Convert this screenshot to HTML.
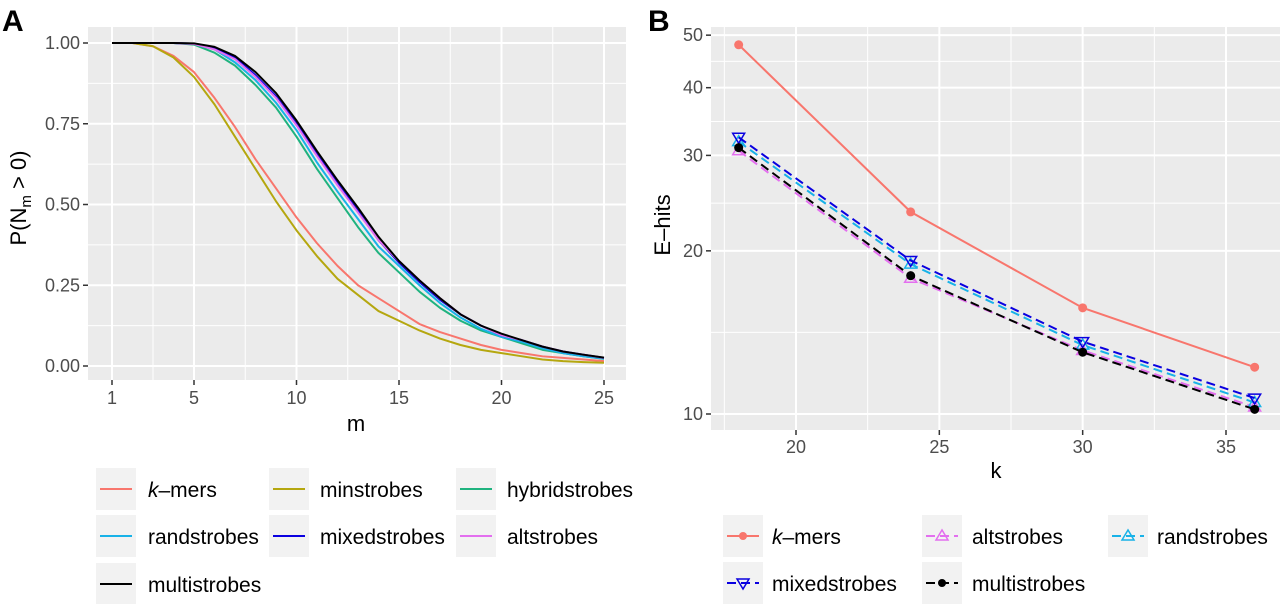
<!DOCTYPE html>
<html><head><meta charset="utf-8"><style>
body{margin:0;background:#fff;}
svg{display:block;font-family:"Liberation Sans",Arial,sans-serif;}
</style></head><body>
<svg id="fig" width="1280" height="604" viewBox="0 0 1280 604">
<g id="pa"></g>
<g id="pb"></g>
</svg>
<script>
// Panel A data
const mValues=[1,2,3,4,5,6,7,8,9,10,11,12,13,14,15,16,17,18,19,20,21,22,23,24,25];
const seriesNamesA=["k-mers","minstrobes","hybridstrobes","randstrobes","mixedstrobes","altstrobes","multistrobes"];
const kmersA=[1,1,.99,.96,.91,.83,.74,.64,.55,.46,.38,.31,.25,.21,.17,.13,.105,.085,.065,.05,.04,.03,.025,.02,.015];
const minstrobesA=[1,1,.99,.955,.895,.81,.71,.61,.51,.42,.34,.27,.22,.17,.14,.11,.085,.065,.05,.04,.03,.02,.015,.012,.01];
const hybridA=[1,1,1,1,.995,.97,.93,.87,.8,.71,.61,.52,.43,.35,.29,.23,.18,.14,.11,.09,.07,.05,.04,.03,.022];
const randA=[1,1,1,1,.997,.98,.94,.885,.815,.73,.63,.54,.455,.37,.31,.25,.195,.15,.115,.09,.075,.055,.04,.03,.023];
const mixedA=[1,1,1,1,.998,.985,.955,.9,.835,.75,.655,.565,.48,.39,.32,.26,.205,.16,.125,.095,.08,.06,.045,.035,.025];
const altA=[1,1,1,1,.997,.98,.95,.895,.83,.745,.65,.56,.475,.39,.325,.265,.21,.16,.125,.095,.08,.06,.045,.035,.025];
const multiA=[1,1,1,1,.999,.988,.96,.91,.845,.76,.665,.575,.49,.4,.325,.265,.21,.16,.125,.1,.08,.06,.045,.035,.026];
const xTicksA=[1,5,10,15,20,25];
const xMinorA=[3,7.5,12.5,17.5,22.5];
const yTicksA=[0,0.25,0.5,0.75,1];
const yTickLabelsA=["0.00","0.25","0.50","0.75","1.00"];
// Panel B data
const kValues=[18,24,30,36];
const kmersB=[48,23.6,15.7,12.2];
const altB=[30.6,17.8,13.1,10.3];
const randB=[31.8,18.9,13.4,10.5];
const mixedB=[32.4,19.2,13.6,10.7];
const multiB=[31.0,18.0,13.0,10.2];
const xTicksB=[20,25,30,35];
const xMinorB=[17.5,22.5,27.5,32.5,37.5];
const yTicksB=[10,20,30,40,50];

const NS="http://www.w3.org/2000/svg";
function mk(parent,tag,attrs,text){const e=document.createElementNS(NS,tag);for(const k in attrs)e.setAttribute(k,attrs[k]);if(text!==undefined)e.textContent=text;parent.appendChild(e);return e;}

const colA=["#F8766D","#B5A70F","#1FB37F","#18B2E8","#0A00E0","#E36FEF","#000000"];
const dataA=[kmersA,minstrobesA,hybridA,randA,mixedA,altA,multiA];
const TICK=18, TITLE=22, LEG=21;

// ---------- Panel A ----------
const pa=document.getElementById('pa');
const A={x0:88,x1:626,y0:27,y1:380};
const xA=v=>112+(v-1)*(604-112)/24;
const yA=v=>366-v*323;
let r=mk(pa,'rect',{x:A.x0,y:A.y0,width:A.x1-A.x0,height:A.y1-A.y0,fill:'#EBEBEB'});

for(const v of xMinorA){mk(pa,'line',{x1:xA(v),x2:xA(v),y1:A.y0,y2:A.y1,stroke:'#fff','stroke-width':1});}
for(let i=0;i<yTicksA.length-1;i++){const v=(yTicksA[i]+yTicksA[i+1])/2;mk(pa,'line',{x1:A.x0,x2:A.x1,y1:yA(v),y2:yA(v),stroke:'#fff','stroke-width':1});}
for(const v of xTicksA){mk(pa,'line',{x1:xA(v),x2:xA(v),y1:A.y0,y2:A.y1,stroke:'#fff','stroke-width':2});
 mk(pa,'line',{x1:xA(v),x2:xA(v),y1:A.y1,y2:A.y1+5,stroke:'#333','stroke-width':1.5});
 const t=mk(pa,'text',{x:xA(v),y:A.y1+24,'text-anchor':'middle','font-size':TICK,fill:'#4D4D4D'},String(v));
 }
yTicksA.forEach((v,i)=>{mk(pa,'line',{x1:A.x0,x2:A.x1,y1:yA(v),y2:yA(v),stroke:'#fff','stroke-width':2});
 mk(pa,'line',{x1:A.x0-5,x2:A.x0,y1:yA(v),y2:yA(v),stroke:'#333','stroke-width':1.5});
 const t=mk(pa,'text',{x:A.x0-8,y:yA(v)+6,'text-anchor':'end','font-size':TICK,fill:'#4D4D4D'},yTickLabelsA[i]);
 });
dataA.forEach((d,si)=>{const p=mk(pa,'polyline',{points:d.map((v,i)=>xA(mValues[i])+','+yA(v)).join(' '),fill:'none',stroke:colA[si],'stroke-width':2,'stroke-linejoin':'round'});
 });
let t=mk(pa,'text',{x:356,y:431,'text-anchor':'middle','font-size':TITLE,fill:'#000'},'m');

t=mk(pa,'text',{x:0,y:0,transform:'translate(26,198) rotate(-90)','text-anchor':'middle','font-size':TITLE,fill:'#000'});

t.innerHTML='P(N<tspan font-size="15" dy="5">m</tspan><tspan dy="-5"> &gt; 0)</tspan>';
t=mk(pa,'text',{x:2,y:31,'font-size':30,'font-weight':'bold',fill:'#000'},'A');

// legend A
const legA=[[0,0],[1,0],[2,0],[0,1],[1,1],[2,1],[0,2]];
const colXA=[96,269,456], labXA=[148,320,507], rowYA=[489,536,584];
legA.forEach(([c,rw],si)=>{const g=mk(pa,'g',{});
 
 mk(g,'rect',{x:colXA[c],y:rowYA[rw]-21,width:40,height:42,fill:'#F2F2F2'});
 mk(g,'line',{x1:colXA[c]+4,x2:colXA[c]+36,y1:rowYA[rw],y2:rowYA[rw],stroke:colA[si],'stroke-width':2});
 const tt=mk(g,'text',{x:labXA[c],y:rowYA[rw]+8,'font-size':LEG,fill:'#000'});
 if(si===0)tt.innerHTML='<tspan font-style="italic">k</tspan>–mers';else tt.textContent=seriesNamesA[si];});

// ---------- Panel B ----------
const pb=document.getElementById('pb');
const B={x0:711,x1:1280,y0:27,y1:430};
const xB=v=>796+(v-20)*(1226-796)/15;
const yB=v=>414-Math.log10(v/10)*542;
r=mk(pb,'rect',{x:B.x0,y:B.y0,width:B.x1-B.x0,height:B.y1-B.y0,fill:'#EBEBEB'});

for(const v of xMinorB){mk(pb,'line',{x1:xB(v),x2:xB(v),y1:B.y0,y2:B.y1,stroke:'#fff','stroke-width':1});}
for(let i=0;i<yTicksB.length-1;i++){const v=Math.sqrt(yTicksB[i]*yTicksB[i+1]);mk(pb,'line',{x1:B.x0,x2:B.x1,y1:yB(v),y2:yB(v),stroke:'#fff','stroke-width':1});}
for(const v of xTicksB){mk(pb,'line',{x1:xB(v),x2:xB(v),y1:B.y0,y2:B.y1,stroke:'#fff','stroke-width':2});
 mk(pb,'line',{x1:xB(v),x2:xB(v),y1:B.y1,y2:B.y1+5,stroke:'#333','stroke-width':1.5});
 const tt=mk(pb,'text',{x:xB(v),y:B.y1+23,'text-anchor':'middle','font-size':TICK,fill:'#4D4D4D'},String(v));
 }
for(const v of yTicksB){mk(pb,'line',{x1:B.x0,x2:B.x1,y1:yB(v),y2:yB(v),stroke:'#fff','stroke-width':2});
 mk(pb,'line',{x1:B.x0-5,x2:B.x0,y1:yB(v),y2:yB(v),stroke:'#333','stroke-width':1.5});
 const tt=mk(pb,'text',{x:B.x0-8,y:yB(v)+6,'text-anchor':'end','font-size':TICK,fill:'#4D4D4D'},String(v));
 }
function marker(g,type,x,y,col,s){
 if(type==='dot')mk(g,'circle',{cx:x,cy:y,r:s||4.5,fill:col});
 else if(type==='up')mk(g,'polygon',{points:`${x},${y-6} ${x-6},${y+4} ${x+6},${y+4}`,fill:'none',stroke:col,'stroke-width':1.5});
 else mk(g,'polygon',{points:`${x},${y+6} ${x-6},${y-4} ${x+6},${y-4}`,fill:'none',stroke:col,'stroke-width':1.5});}
const seriesB=[
 {name:'altstrobes',d:altB,col:'#E36FEF',m:'up',dash:true},
 {name:'randstrobes',d:randB,col:'#18B2E8',m:'up',dash:true},
 {name:'mixedstrobes',d:mixedB,col:'#0A00E0',m:'down',dash:true},
 {name:'multistrobes',d:multiB,col:'#000',m:'dot',dash:true},
 {name:'k-mers',d:kmersB,col:'#F8766D',m:'dot',dash:false}];
seriesB.forEach(s=>{const g=mk(pb,'g',{});
 
 const a={points:s.d.map((v,i)=>xB(kValues[i])+','+yB(v)).join(' '),fill:'none',stroke:s.col,'stroke-width':2};
 if(s.dash)a['stroke-dasharray']='9,5';
 mk(g,'polyline',a);
 s.d.forEach((v,i)=>marker(g,s.m,xB(kValues[i]),yB(v),s.col));});
t=mk(pb,'text',{x:996,y:478,'text-anchor':'middle','font-size':TITLE,fill:'#000'},'k');

t=mk(pb,'text',{x:0,y:0,transform:'translate(670,225) rotate(-90)','text-anchor':'middle','font-size':TITLE,fill:'#000'},'E–hits');

t=mk(pb,'text',{x:648,y:31,'font-size':30,'font-weight':'bold',fill:'#000'},'B');

// legend B
const legB=[{n:'k-mers',col:'#F8766D',m:'dot',dash:false,c:0,r:0},{n:'altstrobes',col:'#E36FEF',m:'up',dash:true,c:1,r:0},{n:'randstrobes',col:'#18B2E8',m:'up',dash:true,c:2,r:0},{n:'mixedstrobes',col:'#0A00E0',m:'down',dash:true,c:0,r:1},{n:'multistrobes',col:'#000',m:'dot',dash:true,c:1,r:1}];
const colXB=[723,922,1108], labXB=[772,972,1157], rowYB=[536,583];
legB.forEach(e=>{const g=mk(pb,'g',{});
 
 const x=colXB[e.c],y=rowYB[e.r];
 mk(g,'rect',{x:x,y:y-21,width:40,height:42,fill:'#F2F2F2'});
 const la={x1:x+4,x2:x+36,y1:y,y2:y,stroke:e.col,'stroke-width':2};if(e.dash)la['stroke-dasharray']='9,5';
 mk(g,'line',la);marker(g,e.m,x+20,y,e.col,4);
 const tt=mk(g,'text',{x:labXB[e.c],y:y+8,'font-size':LEG,fill:'#000'});
 if(e.n==='k-mers')tt.innerHTML='<tspan font-style="italic">k</tspan>–mers';else tt.textContent=e.n;});
</script>
</body></html>
